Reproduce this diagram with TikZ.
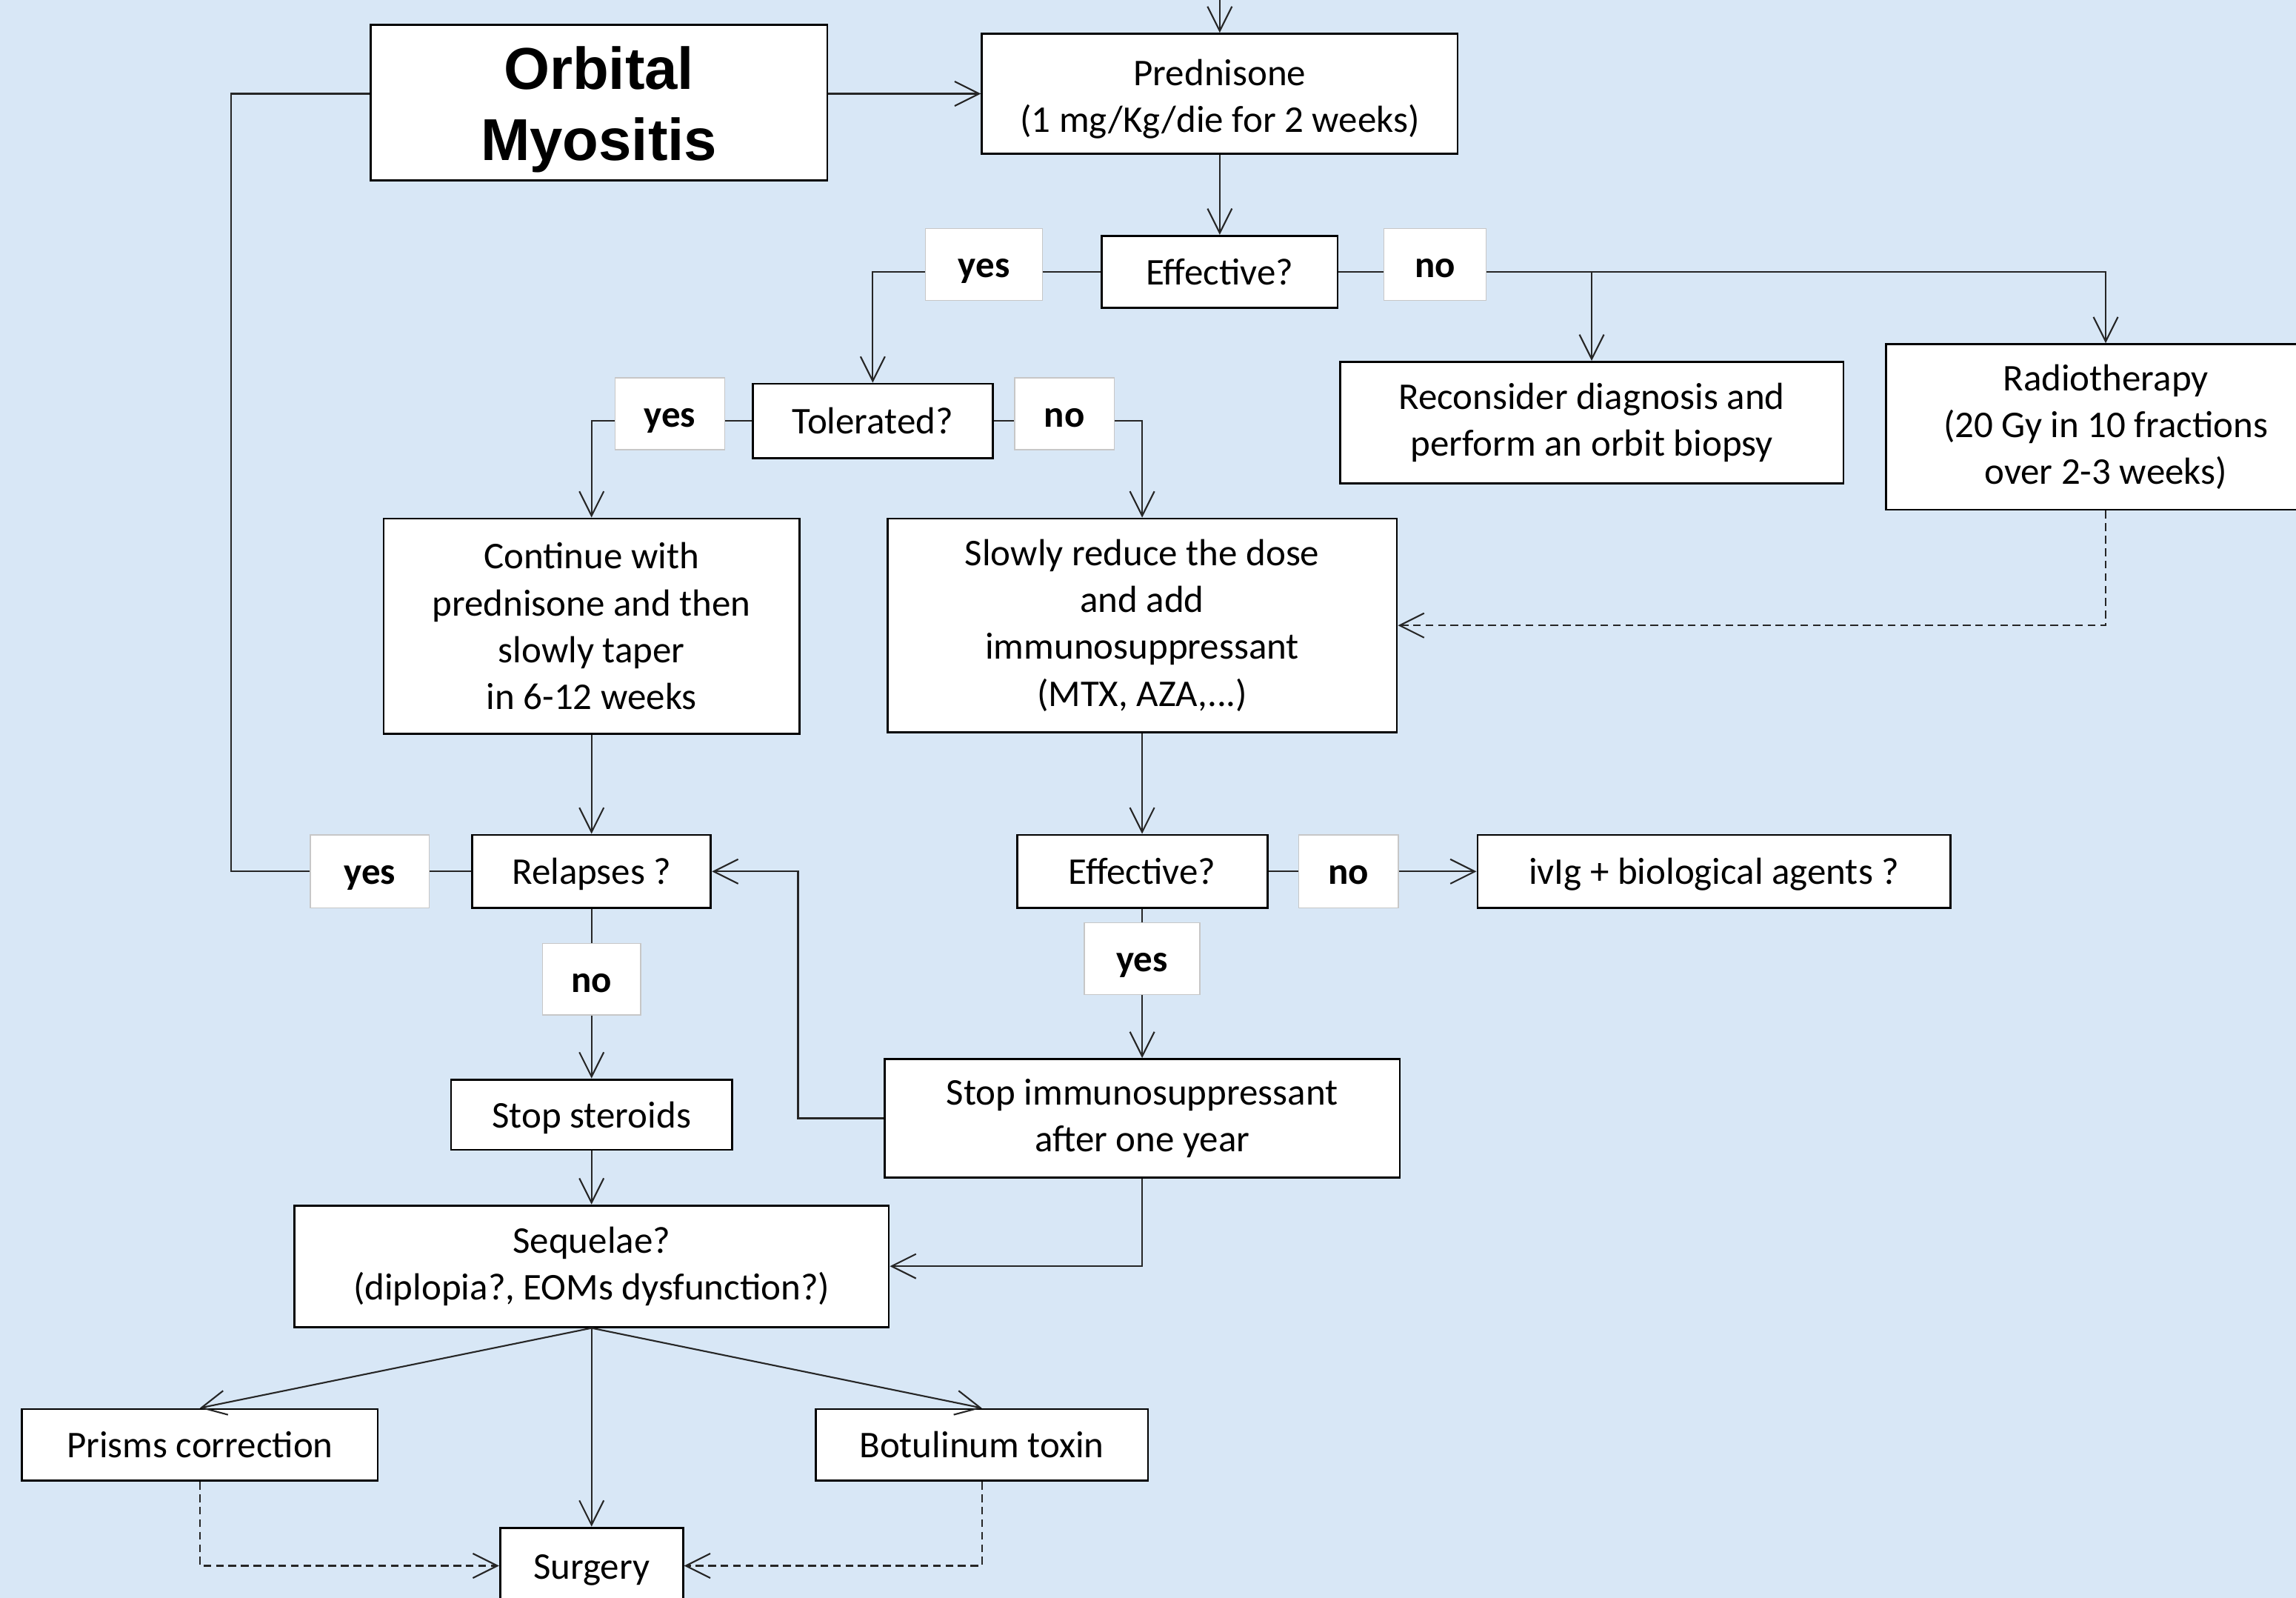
\documentclass[tikz,border=0pt]{standalone}
\usepackage{fontspec}
\setmainfont{Carlito}
\newfontfamily\arialfont{Liberation Sans}
\usetikzlibrary{arrows.meta}
\definecolor{bgblue}{RGB}{216,231,246}
\begin{document}
\begin{tikzpicture}[x=0.01977cm,y=-0.01977cm,
  box/.style={draw=black, fill=white, line width=0.8pt, inner sep=0pt, align=center, font=\fontsize{14.5}{18}\selectfont},
  oneline/.style={text height=10pt, text depth=0pt},
  lbl/.style={draw=black!22, line width=0.4pt, fill=white, inner sep=0pt, align=center, text height=10pt, text depth=0pt, font=\fontsize{14.5}{18}\selectfont\bfseries},
  conn/.style={line width=0.6pt, draw=black!85},
  arr/.style={conn, -{Straight Barb[length=3.3mm,width=3.3mm]}},
  dsh/.style={dash pattern=on 3pt off 1.8pt}]
\fill[bgblue] (0,0) rectangle (1568,1091);
\useasboundingbox (0,0) rectangle (1568,1091);

% nodes
\node[box, minimum width=6.168cm, minimum height=2.096cm, font=\arialfont\fontsize{22.7}{27.3}\selectfont\bfseries] (orb) at (409,70) {\rule{0pt}{22pt}Orbital\\Myositis};
\node[box, minimum width=6.425cm, minimum height=1.621cm] (pred) at (833,64) {\rule{0pt}{14pt}Prednisone\\(1 mg/Kg/die for 2 weeks)};
\node[box, oneline, minimum width=3.183cm, minimum height=0.969cm] (eff1) at (833,185.5) {Effective?};
\node[lbl, minimum width=1.582cm, minimum height=0.969cm] (yes1) at (672,180.5) {yes};
\node[lbl, minimum width=1.384cm, minimum height=0.969cm] (no1) at (980,180.5) {no};
\node[box, minimum width=6.801cm, minimum height=1.641cm] (rec) at (1087,288.5) {Reconsider diagnosis and\\perform an orbit biopsy};
\node[box, minimum width=5.931cm, minimum height=2.234cm] (radio) at (1438,291.5) {Radiotherapy\\(20 Gy in 10 fractions\\over 2-3 weeks)};
\node[box, oneline, minimum width=3.242cm, minimum height=1.008cm] (tol) at (596,287.5) {Tolerated?};
\node[lbl, minimum width=1.483cm, minimum height=0.969cm] (yes2) at (457.5,282.5) {yes};
\node[lbl, minimum width=1.344cm, minimum height=0.969cm] (no2) at (727,282.5) {no};
\node[box, minimum width=5.615cm, minimum height=2.906cm] (cont) at (404,427.5) {Continue with\\prednisone and then\\slowly taper\\in 6-12 weeks};
\node[box, minimum width=6.880cm, minimum height=2.886cm] (slow) at (780,427) {Slowly reduce the dose\\and add\\immunosuppressant\\(MTX, AZA,...)};
\node[box, oneline, minimum width=3.223cm, minimum height=0.989cm] (rel) at (404,595) {Relapses ?};
\node[lbl, minimum width=1.601cm, minimum height=0.989cm] (yes3) at (252.5,595) {yes};
\node[lbl, minimum width=1.325cm, minimum height=0.969cm] (no4) at (404,668.5) {no};
\node[box, oneline, minimum width=3.381cm, minimum height=0.989cm] (eff2) at (780,595) {Effective?};
\node[lbl, minimum width=1.344cm, minimum height=0.989cm] (no5) at (921,595) {no};
\node[box, oneline, minimum width=6.386cm, minimum height=0.989cm] (ivig) at (1170.5,595) {ivIg + biological agents ?};
\node[lbl, minimum width=1.562cm, minimum height=0.969cm] (yes6) at (780,654.5) {yes};
\node[box, minimum width=6.959cm, minimum height=1.601cm] (stopI) at (780,763.5) {Stop immunosuppressant\\after one year};
\node[box, oneline, minimum width=3.796cm, minimum height=0.949cm] (stopS) at (404,761) {Stop steroids};
\node[box, minimum width=8.027cm, minimum height=1.641cm] (seq) at (404,864.5) {Sequelae?\\(diplopia?, EOMs dysfunction?)};
\node[box, oneline, minimum width=4.804cm, minimum height=0.969cm] (prism) at (136.5,986.5) {Prisms correction};
\node[box, oneline, minimum width=4.488cm, minimum height=0.969cm] (botu) at (670.5,986.5) {Botulinum toxin};
\node[box, oneline, minimum width=2.471cm, minimum height=1.028cm] (surg) at (404,1069) {Surgery};

\coordinate (topin) at (833,-20);
\coordinate (lft) at (158,595);
\coordinate (jog) at (545,595);

% connectors
\draw[arr] (topin) -- (pred.north);
\draw[arr] (orb.east |- pred.west) -- (pred.west);
\draw[arr] (pred.south) -- (eff1.north);
\draw[conn] (eff1.west) -- (eff1.west -| yes1.east);
\draw[arr] (yes1.west |- eff1.west) -| (tol.north);
\draw[conn] (eff1.east) -- (eff1.east -| no1.west);
\draw[arr] (no1.east |- eff1.east) -| (radio.north);
\draw[arr] (eff1.east -| rec.north) -- (rec.north);
\draw[conn] (tol.west) -- (tol.west -| yes2.east);
\draw[arr] (yes2.west |- tol.west) -| (cont.north);
\draw[conn] (tol.east) -- (tol.east -| no2.west);
\draw[arr] (no2.east |- tol.east) -| (slow.north);
\draw[arr, dsh] (radio.south) |- (slow.east);
\draw[arr] (cont.south) -- (rel.north);
\draw[conn] (rel.west) -- (yes3.east);
\draw[conn] (yes3.west) -- (lft) |- (orb.west |- pred.west);
\draw[conn] (rel.south) -- (no4.north);
\draw[arr] (no4.south) -- (stopS.north);
\draw[arr] (slow.south) -- (eff2.north);
\draw[conn] (eff2.east) -- (no5.west);
\draw[arr] (no5.east) -- (ivig.west);
\draw[conn] (eff2.south) -- (yes6.north);
\draw[arr] (yes6.south) -- (stopI.north);
\draw[arr] (stopI.west) -| (jog) -- (rel.east);
\draw[arr] (stopI.south) |- (seq.east);
\draw[arr] (stopS.south) -- (seq.north);
\draw[arr] (seq.south) -- (prism.north);
\draw[arr] (seq.south) -- (botu.north);
\draw[arr] (seq.south) -- (surg.north);
\draw[arr, dsh] (prism.south) |- (surg.west);
\draw[arr, dsh] (botu.south) |- (surg.east);
\end{tikzpicture}
\end{document}
